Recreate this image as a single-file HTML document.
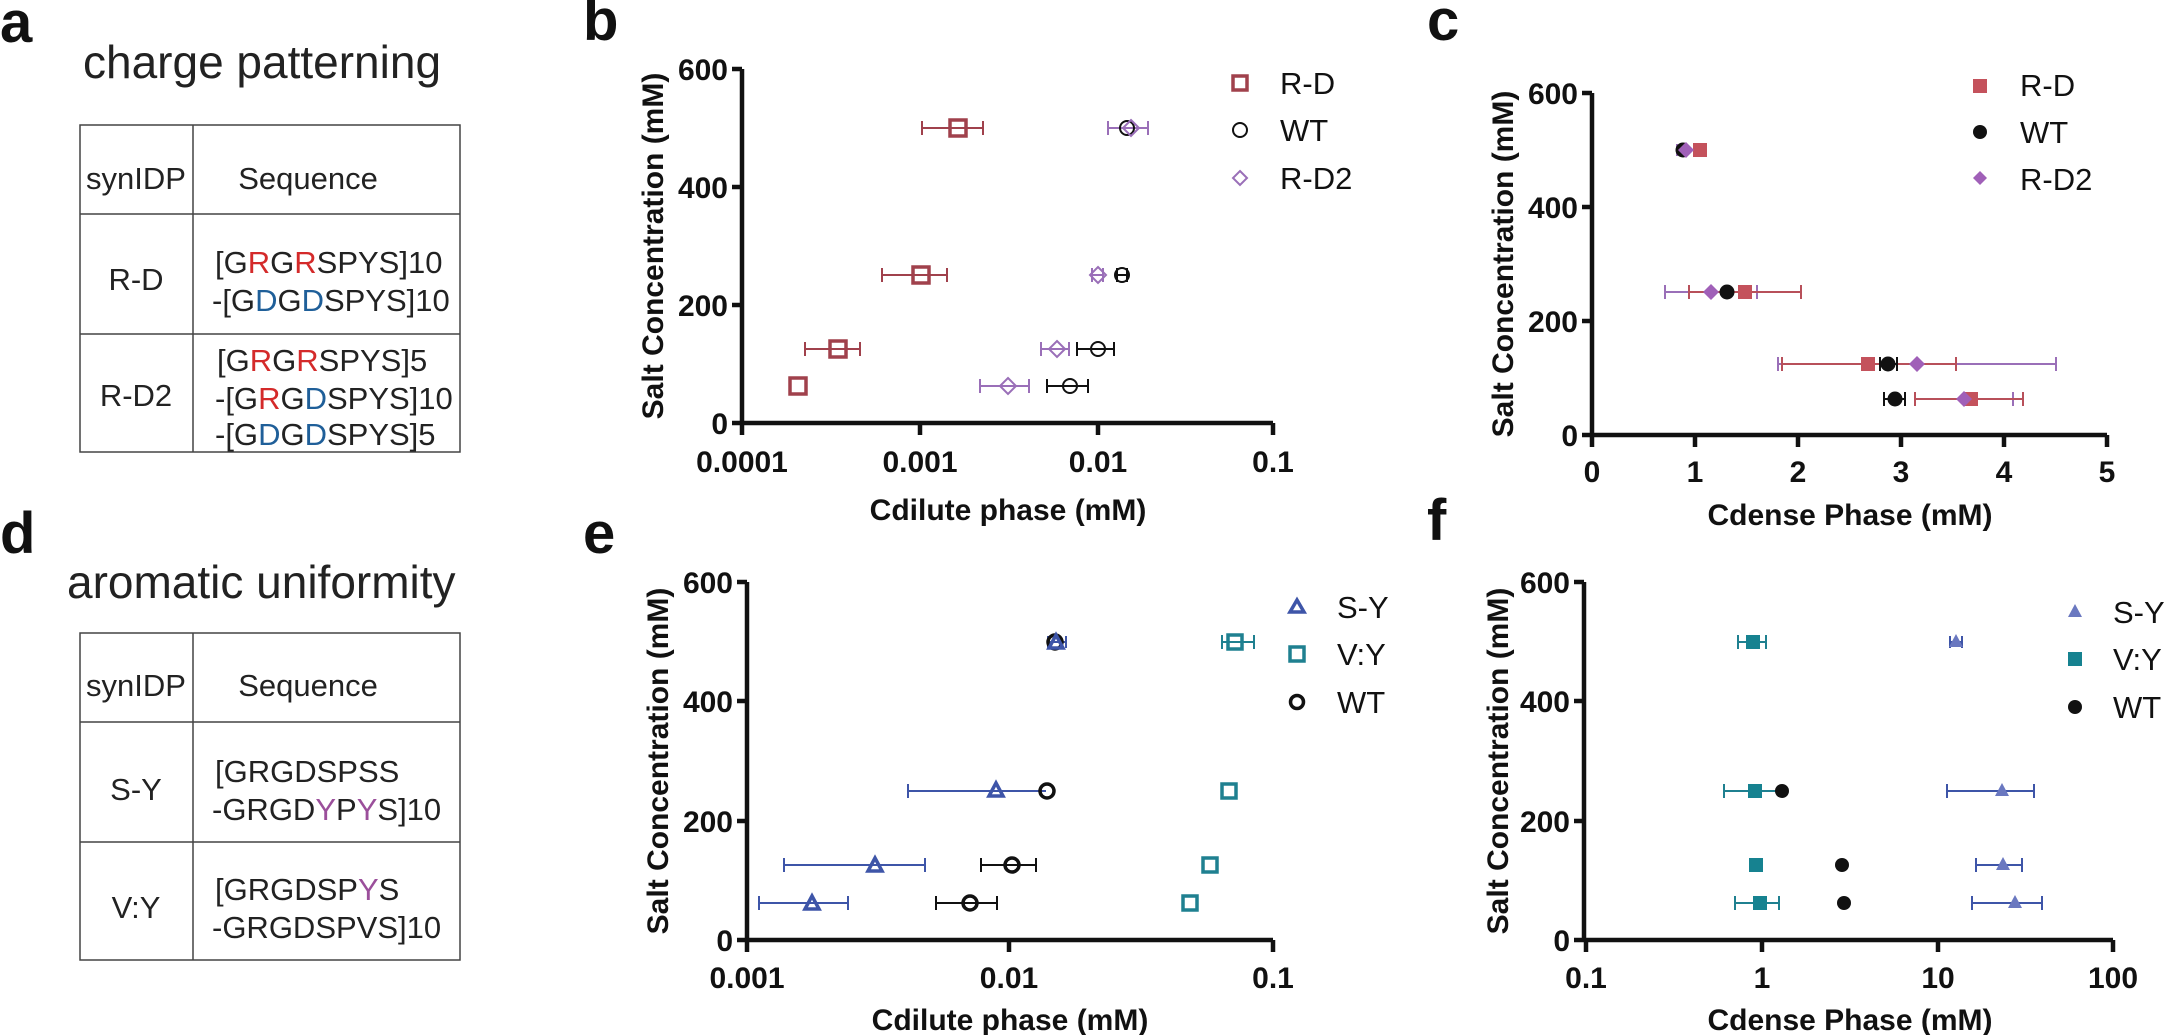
<!DOCTYPE html>
<html><head><meta charset="utf-8"><style>
html,body{margin:0;padding:0;background:#fff;}
svg{display:block;font-family:"Liberation Sans",Arial,sans-serif;}
.t{font-size:31px;fill:#222;}
.tk{font-size:30px;font-weight:bold;fill:#111;}
.ti{font-size:30px;font-weight:bold;fill:#111;}
.lg{font-size:31px;fill:#111;}
.pl{font-size:58px;font-weight:bold;fill:#111;}
.ax{stroke:#111;stroke-width:4.5;fill:none;}
.e{stroke-width:2;fill:none;}
</style></head><body>
<svg width="2165" height="1035" viewBox="0 0 2165 1035" xmlns="http://www.w3.org/2000/svg">
<!-- Panel labels -->
<text class="pl" x="0" y="42">a</text>
<text class="pl" x="583" y="40">b</text>
<text class="pl" x="1427" y="40">c</text>
<text class="pl" x="0" y="553">d</text>
<text class="pl" x="583" y="553">e</text>
<text class="pl" x="1427" y="540">f</text>

<!-- Panel a -->
<text x="83" y="78" style="font-size:46px;fill:#222">charge patterning</text>
<g stroke="#444" stroke-width="1.5" fill="none">
<rect x="80" y="125" width="380" height="327"/>
<line x1="80" y1="214" x2="460" y2="214"/><line x1="80" y1="334" x2="460" y2="334"/>
<line x1="193" y1="125" x2="193" y2="452"/>
</g>
<text class="t" x="136" y="189" text-anchor="middle">synIDP</text>
<text class="t" x="308" y="189" text-anchor="middle">Sequence</text>
<text class="t" x="136" y="290" text-anchor="middle">R-D</text>
<text class="t" x="215" y="273">[G<tspan fill="#d42a2a">R</tspan>G<tspan fill="#d42a2a">R</tspan>SPYS]10</text>
<text class="t" x="212" y="311">-[G<tspan fill="#1f5f99">D</tspan>G<tspan fill="#1f5f99">D</tspan>SPYS]10</text>
<text class="t" x="136" y="406" text-anchor="middle">R-D2</text>
<text class="t" x="217" y="371">[G<tspan fill="#d42a2a">R</tspan>G<tspan fill="#d42a2a">R</tspan>SPYS]5</text>
<text class="t" x="215" y="409">-[G<tspan fill="#d42a2a">R</tspan>G<tspan fill="#1f5f99">D</tspan>SPYS]10</text>
<text class="t" x="215" y="445">-[G<tspan fill="#1f5f99">D</tspan>G<tspan fill="#1f5f99">D</tspan>SPYS]5</text>

<!-- Panel d -->
<text x="67" y="598" style="font-size:46px;fill:#222">aromatic uniformity</text>
<g stroke="#444" stroke-width="1.5" fill="none">
<rect x="80" y="633" width="380" height="327"/>
<line x1="80" y1="722" x2="460" y2="722"/><line x1="80" y1="842" x2="460" y2="842"/>
<line x1="193" y1="633" x2="193" y2="960"/>
</g>
<text class="t" x="136" y="696" text-anchor="middle">synIDP</text>
<text class="t" x="308" y="696" text-anchor="middle">Sequence</text>
<text class="t" x="136" y="800" text-anchor="middle">S-Y</text>
<text class="t" x="215" y="782">[GRGDSPSS</text>
<text class="t" x="212" y="820">-GRGD<tspan fill="#9b4f9b">Y</tspan>P<tspan fill="#9b4f9b">Y</tspan>S]10</text>
<text class="t" x="136" y="918" text-anchor="middle">V:Y</text>
<text class="t" x="215" y="900">[GRGDSP<tspan fill="#9b4f9b">Y</tspan>S</text>
<text class="t" x="212" y="938">-GRGDSPVS]10</text>

<!-- Panel b axes -->
<path class="ax" d="M742 69V423H1273M732 69H742M732 187H742M732 305H742M732 423H742M742 423V435M920 423V435M1098 423V435M1273 423V435"/>
<g class="tk" text-anchor="end"><text x="728" y="80">600</text><text x="728" y="198">400</text><text x="728" y="316">200</text><text x="728" y="434">0</text></g>
<g class="tk" text-anchor="middle"><text x="742" y="472">0.0001</text><text x="920" y="472">0.001</text><text x="1098" y="472">0.01</text><text x="1273" y="472">0.1</text></g>
<text class="ti" x="1008" y="520" text-anchor="middle">Cdilute phase (mM)</text>
<text class="ti" transform="translate(663,246) rotate(-90)" text-anchor="middle">Salt Concentration (mM)</text>
<!-- b error bars -->
<g class="e" stroke="#a0414c">
<path d="M922 128H983M922 121V135M983 121V135"/>
<path d="M882 275H947M882 268V282M947 268V282"/>
<path d="M805 349H860M805 342V356M860 342V356"/>
</g>
<g class="e" stroke="#9a6fb8">
<path d="M1108 128H1148M1108 121V135M1148 121V135"/>
<path d="M1092 275H1103M1092 268V282M1103 268V282"/>
<path d="M1041 349H1069M1041 342V356M1069 342V356"/>
<path d="M980 386H1029M980 379V393M1029 379V393"/>
</g>
<g class="e" stroke="#111">
<path d="M1117 275H1127M1117 268V282M1127 268V282"/>
<path d="M1077 349H1114M1077 342V356M1114 342V356"/>
<path d="M1047 386H1088M1047 379V393M1088 379V393"/>
</g>
<!-- b markers -->
<g fill="none" stroke="#a0414c" stroke-width="3.5">
<rect x="950" y="120" width="16" height="16"/><rect x="913" y="267" width="16" height="16"/>
<rect x="830" y="341" width="16" height="16"/><rect x="790" y="378" width="16" height="16"/>
</g>
<g fill="none" stroke="#111" stroke-width="2">
<circle cx="1127" cy="128" r="7"/><circle cx="1122" cy="275" r="7"/><circle cx="1098" cy="349" r="7"/><circle cx="1070" cy="386" r="7"/>
</g>
<g fill="none" stroke="#9a6fb8" stroke-width="2">
<path d="M1131 120L1139 128L1131 136L1123 128Z"/><path d="M1098 267L1106 275L1098 283L1090 275Z"/>
<path d="M1057 341L1065 349L1057 357L1049 349Z"/><path d="M1008 378L1016 386L1008 394L1000 386Z"/>
</g>
<!-- b legend -->
<rect x="1233" y="76" width="14" height="14" fill="none" stroke="#a0414c" stroke-width="3.5"/>
<circle cx="1240" cy="130" r="7" fill="none" stroke="#111" stroke-width="2"/>
<path d="M1240 171L1247 178L1240 185L1233 178Z" fill="none" stroke="#9a6fb8" stroke-width="2"/>
<g class="lg"><text x="1280" y="94">R-D</text><text x="1280" y="141">WT</text><text x="1280" y="189">R-D2</text></g>

<!-- Panel c axes -->
<path class="ax" d="M1592 93V435H2107M1582 93H1592M1582 207H1592M1582 321H1592M1582 435H1592M1592 435V447M1695 435V447M1798 435V447M1901 435V447M2004 435V447M2107 435V447"/>
<g class="tk" text-anchor="end"><text x="1578" y="104">600</text><text x="1578" y="218">400</text><text x="1578" y="332">200</text><text x="1578" y="446">0</text></g>
<g class="tk" text-anchor="middle"><text x="1592" y="482">0</text><text x="1695" y="482">1</text><text x="1798" y="482">2</text><text x="1901" y="482">3</text><text x="2004" y="482">4</text><text x="2107" y="482">5</text></g>
<text class="ti" x="1850" y="525" text-anchor="middle">Cdense Phase (mM)</text>
<text class="ti" transform="translate(1513,264) rotate(-90)" text-anchor="middle">Salt Concentration (mM)</text>
<g class="e" stroke="#9a6fb8">
<path d="M1677 150H1690M1677 144V156"/>
<path d="M1665 292H1757M1665 285V299M1757 285V299"/>
<path d="M1778 364H2056M1778 357V371M2056 357V371"/>
<path d="M1915 399H2013M2013 392V406"/>
</g>
<g class="e" stroke="#b8505a">
<path d="M1689 292H1801M1689 285V299M1801 285V299"/>
<path d="M1782 364H1956M1782 357V371M1956 357V371"/>
<path d="M1915 399H2023M1915 392V406M2023 392V406"/>
</g>
<g class="e" stroke="#111">
<path d="M1880 364H1897M1880 357V371M1897 357V371"/>
<path d="M1884 399H1905M1884 392V406M1905 392V406"/>
</g>
<g fill="#c4525c">
<rect x="1693" y="143" width="14" height="14"/><rect x="1738" y="285" width="14" height="14"/>
<rect x="1861" y="357" width="14" height="14"/><rect x="1964" y="392" width="14" height="14"/>
</g>
<g fill="#111">
<circle cx="1683" cy="150" r="7.5"/><circle cx="1727" cy="292" r="7.5"/><circle cx="1888" cy="364" r="7.5"/><circle cx="1895" cy="399" r="7.5"/>
</g>
<g fill="#a060b8">
<path d="M1686 142L1694 150L1686 158L1678 150Z"/><path d="M1711 284L1719 292L1711 300L1703 292Z"/>
<path d="M1917 356L1925 364L1917 372L1909 364Z"/><path d="M1964 391L1972 399L1964 407L1956 399Z"/>
</g>
<rect x="1973" y="79" width="14" height="14" fill="#c4525c"/>
<circle cx="1980" cy="132" r="7" fill="#111"/>
<path d="M1980 171L1987 178L1980 185L1973 178Z" fill="#a060b8"/>
<g class="lg"><text x="2020" y="96">R-D</text><text x="2020" y="143">WT</text><text x="2020" y="190">R-D2</text></g>

<!-- Panel e axes -->
<path class="ax" d="M747 582V940H1273M737 582H747M737 701H747M737 821H747M737 940H747M747 940V952M1009 940V952M1273 940V952"/>
<g class="tk" text-anchor="end"><text x="733" y="593">600</text><text x="733" y="712">400</text><text x="733" y="832">200</text><text x="733" y="951">0</text></g>
<g class="tk" text-anchor="middle"><text x="747" y="988">0.001</text><text x="1009" y="988">0.01</text><text x="1273" y="988">0.1</text></g>
<text class="ti" x="1010" y="1030" text-anchor="middle">Cdilute phase (mM)</text>
<text class="ti" transform="translate(668,761) rotate(-90)" text-anchor="middle">Salt Concentration (mM)</text>
<g class="e" stroke="#3e55a8">
<path d="M1048 642H1066M1048 636V648M1066 636V648"/>
<path d="M908 791H1046M908 784V798"/>
<path d="M784 865H925M784 858V872M925 858V872"/>
<path d="M759 903H848M759 896V910M848 896V910"/>
</g>
<g class="e" stroke="#111">
<path d="M981 865H1036M981 858V872M1036 858V872"/>
<path d="M936 903H997M936 896V910M997 896V910"/>
</g>
<g class="e" stroke="#1f8090">
<path d="M1222 642H1254M1222 635V649M1254 635V649"/>
</g>
<g fill="none" stroke="#111" stroke-width="3.5">
<circle cx="1055" cy="642" r="7"/><circle cx="1047" cy="791" r="7"/><circle cx="1012" cy="865" r="7"/><circle cx="970" cy="903" r="7"/>
</g>
<g fill="none" stroke="#3e55a8" stroke-width="3.5">
<path d="M1056 635L1063 648H1049Z"/><path d="M996 783L1003 796H989Z"/><path d="M875 858L882 871H868Z"/><path d="M812 896L819 909H805Z"/>
</g>
<g fill="none" stroke="#1f8090" stroke-width="3.5">
<rect x="1228" y="635" width="14" height="14"/><rect x="1222" y="784" width="14" height="14"/>
<rect x="1203" y="858" width="14" height="14"/><rect x="1183" y="896" width="14" height="14"/>
</g>
<path d="M1297 600L1304 612H1290Z" fill="none" stroke="#3e55a8" stroke-width="3.5"/>
<rect x="1290" y="647" width="14" height="14" fill="none" stroke="#1f8090" stroke-width="3.5"/>
<circle cx="1297" cy="702" r="6.5" fill="none" stroke="#111" stroke-width="3.5"/>
<g class="lg"><text x="1337" y="618">S-Y</text><text x="1337" y="665">V:Y</text><text x="1337" y="713">WT</text></g>

<!-- Panel f axes -->
<path class="ax" d="M1584 582V940H2113M1574 582H1584M1574 701H1584M1574 821H1584M1574 940H1584M1586 940V952M1762 940V952M1938 940V952M2113 940V952"/>
<g class="tk" text-anchor="end"><text x="1570" y="593">600</text><text x="1570" y="712">400</text><text x="1570" y="832">200</text><text x="1570" y="951">0</text></g>
<g class="tk" text-anchor="middle"><text x="1586" y="988">0.1</text><text x="1762" y="988">1</text><text x="1938" y="988">10</text><text x="2113" y="988">100</text></g>
<text class="ti" x="1850" y="1030" text-anchor="middle">Cdense Phase (mM)</text>
<text class="ti" transform="translate(1508,761) rotate(-90)" text-anchor="middle">Salt Concentration (mM)</text>
<g class="e" stroke="#1f8090">
<path d="M1738 642H1766M1738 635V649M1766 635V649"/>
<path d="M1724 791H1776M1724 784V798"/>
<path d="M1735 903H1779M1735 896V910M1779 896V910"/>
</g>
<g class="e" stroke="#3e55a8">
<path d="M1950 642H1962M1950 636V648M1962 636V648"/>
<path d="M1947 791H2034M1947 784V798M2034 784V798"/>
<path d="M1976 865H2022M1976 858V872M2022 858V872"/>
<path d="M1972 903H2042M1972 896V910M2042 896V910"/>
</g>
<g fill="#168290">
<rect x="1746" y="635" width="14" height="14"/><rect x="1748" y="784" width="14" height="14"/>
<rect x="1749" y="858" width="14" height="14"/><rect x="1753" y="896" width="14" height="14"/>
</g>
<g fill="#111">
<circle cx="1782" cy="791" r="7"/><circle cx="1842" cy="865" r="7"/><circle cx="1844" cy="903" r="7"/>
</g>
<g fill="#6a78c0">
<path d="M1956 634L1963 647H1949Z"/><path d="M2002 783L2009 796H1995Z"/><path d="M2003 857L2010 870H1996Z"/><path d="M2015 895L2022 908H2008Z"/>
</g>
<path d="M2075 604L2082 617H2068Z" fill="#6a78c0"/>
<rect x="2068" y="652" width="14" height="14" fill="#168290"/>
<circle cx="2075" cy="707" r="7" fill="#111"/>
<g class="lg"><text x="2113" y="623">S-Y</text><text x="2113" y="670">V:Y</text><text x="2113" y="718">WT</text></g>
</svg>
</body></html>
